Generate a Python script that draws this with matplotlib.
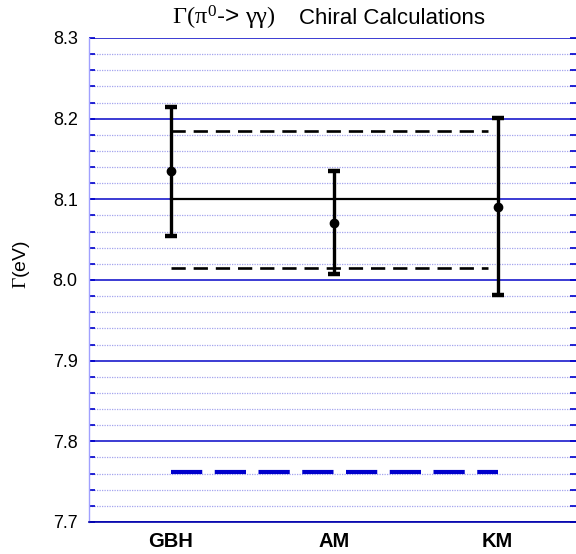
import matplotlib
matplotlib.use("Agg")
import matplotlib.pyplot as plt
from matplotlib.ticker import MultipleLocator

plt.rcParams['mathtext.fontset'] = 'custom'
plt.rcParams['mathtext.rm'] = 'Liberation Serif'
plt.rcParams['mathtext.it'] = 'Liberation Serif'
plt.rcParams['mathtext.bf'] = 'Liberation Serif:bold'
plt.rcParams['font.family'] = ['Liberation Sans', 'DejaVu Sans']

categories = ['GBH', 'AM', 'KM']
values = [8.135, 8.071, 8.091]
errors = [0.080, 0.064, 0.110]

avg_value = 8.100
band_upper = 8.185
band_lower = 8.015
experiment_value = 7.762

yticks = [7.7, 7.8, 7.9, 8.0, 8.1, 8.2, 8.3]

W, H = 576, 554
fig = plt.figure(figsize=(W / 100, H / 100), dpi=100)
ax = fig.add_axes([89.3 / W, 1 - 522 / H, (576 - 89.3) / W, (522 - 38) / H])

xpos = list(range(len(categories)))

ax.set_ylim(7.7, 8.3)
ax.set_xlim(-0.5, 2.48)

ax.yaxis.set_minor_locator(MultipleLocator(0.02))
ax.set_yticks(yticks)
ax.set_yticklabels([f"{v:.1f}" for v in yticks], fontsize=13)

ax.grid(True, which='major', axis='y', color='#1a1acc', linewidth=1.2, zorder=0)
ax.grid(True, which='minor', axis='y', color='#a4a4ee', linewidth=0.9,
        linestyle=(0, (1, 1)), zorder=0)

ax.tick_params(axis='y', which='both', direction='in', left=True, right=True,
               color='#0000cc')
ax.tick_params(axis='y', which='minor', length=4.5, width=1.2)
ax.tick_params(axis='y', which='major', length=4.5, width=1.2, pad=8.4)
ax.tick_params(axis='x', length=0, pad=7)

ax.set_xticks(xpos)
ax.set_xticklabels(categories, fontsize=14.5, fontweight='bold')

for side in ['top', 'right']:
    ax.spines[side].set_visible(False)
ax.spines['left'].set_color('#a0a0ff')
ax.spines['left'].set_linewidth(1.0)
ax.spines['bottom'].set_color('#0000aa')
ax.spines['bottom'].set_linewidth(1.2)

# reference lines
ax.plot([xpos[0], xpos[-1]], [avg_value, avg_value], color='black', lw=1.6, zorder=3)
ax.plot([xpos[0], xpos[-1] - 0.06], [band_upper, band_upper], color='black', lw=1.9,
        linestyle=(0, (5.4, 3.0)), zorder=3)
ax.plot([xpos[0], xpos[-1] - 0.06], [band_lower, band_lower], color='black', lw=1.9,
        linestyle=(0, (5.4, 3.0)), zorder=3)
ax.plot([xpos[0], xpos[-1]], [experiment_value, experiment_value], color='#0000cc',
        lw=3.0, linestyle=(0, (7.5, 3.0)), zorder=3)

ax.errorbar(xpos, values, yerr=errors, fmt='o', color='black', markersize=6,
            elinewidth=2.4, capsize=4.5, capthick=3.2, zorder=4)

fig.text(22 / W, 1 - 265 / H, r'$\Gamma$(eV)', rotation=90, ha='center',
         va='center', fontsize=14)

fig.text(172 / W, 1 - 24.5 / H, r'$\Gamma(\pi^{0}$-> $\gamma\gamma)$',
         ha='left', va='baseline', fontsize=17.5)
fig.text(299 / W, 1 - 24.5 / H, 'Chiral Calculations',
         ha='left', va='baseline', fontsize=16)

fig.savefig('out.png', dpi=100)
